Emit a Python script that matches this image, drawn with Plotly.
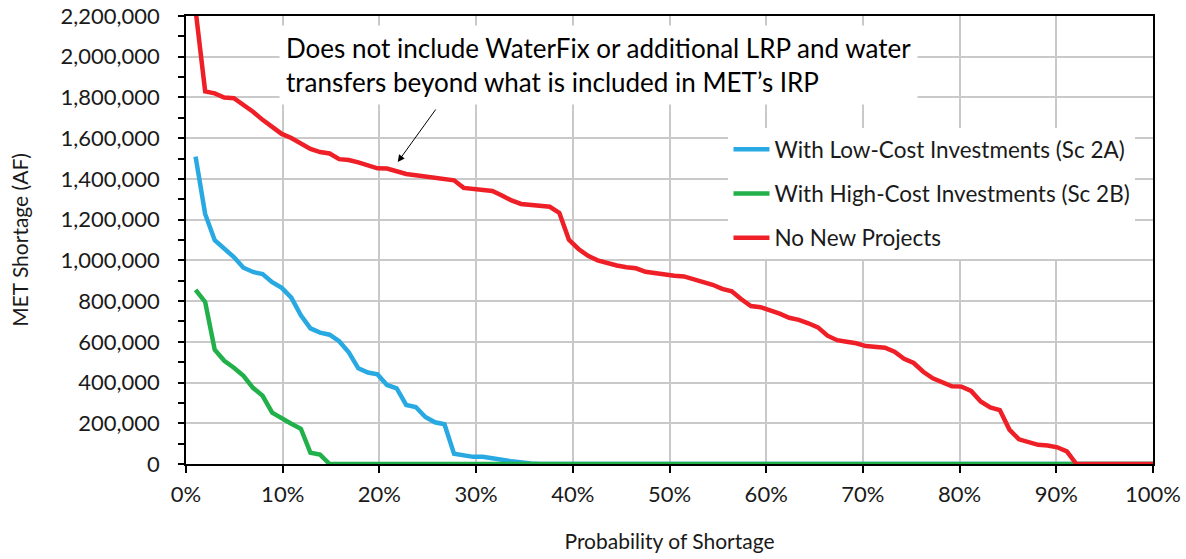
import plotly.graph_objects as go

# Exceedance probability (%) of each ranked year (rank / 101), plus the 100% end point
PROBABILITY_PCT = [
    0.99, 1.98, 2.97, 3.96, 4.95, 5.94, 6.93, 7.92, 8.91, 9.90,
    10.89, 11.88, 12.87, 13.86, 14.85, 15.84, 16.83, 17.82, 18.81, 19.80,
    20.79, 21.78, 22.77, 23.76, 24.75, 25.74, 26.73, 27.72, 28.71, 29.70,
    30.69, 31.68, 32.67, 33.66, 34.65, 35.64, 36.63, 37.62, 38.61, 39.60,
    40.59, 41.58, 42.57, 43.56, 44.55, 45.54, 46.53, 47.52, 48.51, 49.50,
    50.50, 51.49, 52.48, 53.47, 54.46, 55.45, 56.44, 57.43, 58.42, 59.41,
    60.40, 61.39, 62.38, 63.37, 64.36, 65.35, 66.34, 67.33, 68.32, 69.31,
    70.30, 71.29, 72.28, 73.27, 74.26, 75.25, 76.24, 77.23, 78.22, 79.21,
    80.20, 81.19, 82.18, 83.17, 84.16, 85.15, 86.14, 87.13, 88.12, 89.11,
    90.10, 91.09, 92.08, 93.07, 94.06, 95.05, 96.04, 97.03, 98.02, 99.01,
    100.0,
]

LOW_COST_2A = [
    1510000, 1228000, 1099000, 1055000, 1016000, 964000, 943000, 933000, 893000, 865000,
    817000, 730000, 666000, 645000, 635000, 603000, 548000, 470000, 449000, 440000,
    388000, 372000, 290000, 280000, 231000, 205000, 195000, 50000, 40000, 35000,
    35000, 30000, 21000, 13000, 6000, 2000, 0, 0, 0, 0,
    0, 0, 0, 0, 0, 0, 0, 0, 0, 0,
    0, 0, 0, 0, 0, 0, 0, 0, 0, 0,
    0, 0, 0, 0, 0, 0, 0, 0, 0, 0,
    0, 0, 0, 0, 0, 0, 0, 0, 0, 0,
    0, 0, 0, 0, 0, 0, 0, 0, 0, 0,
    0, 0, 0, 0, 0, 0, 0, 0, 0, 0,
    0,
]

HIGH_COST_2B = [
    855000, 796000, 561000, 507000, 473000, 433000, 374000, 335000, 252000, 222000,
    198000, 173000, 55000, 46000, 0, 0, 0, 0, 0, 0,
    0, 0, 0, 0, 0, 0, 0, 0, 0, 0,
    0, 0, 0, 0, 0, 0, 0, 0, 0, 0,
    0, 0, 0, 0, 0, 0, 0, 0, 0, 0,
    0, 0, 0, 0, 0, 0, 0, 0, 0, 0,
    0, 0, 0, 0, 0, 0, 0, 0, 0, 0,
    0, 0, 0, 0, 0, 0, 0, 0, 0, 0,
    0, 0, 0, 0, 0, 0, 0, 0, 0, 0,
    0, 0, 0, 0, 0, 0, 0, 0, 0, 0,
    0,
]

NO_NEW_PROJECTS = [
    2230000, 1830000, 1820000, 1800000, 1796000, 1765000, 1730000, 1690000, 1655000, 1621000,
    1601000, 1574000, 1547000, 1532000, 1525000, 1497000, 1493000, 1481000, 1466000, 1452000,
    1451000, 1437000, 1424000, 1418000, 1412000, 1402000, 1395000, 1393000, 1356000, 1352000,
    1349000, 1341000, 1319000, 1294000, 1277000, 1271000, 1267000, 1263000, 1233000, 1101000,
    1056000, 1022000, 1000000, 985000, 975000, 966000, 961000, 944000, 937000, 929000,
    925000, 921000, 909000, 893000, 880000, 860000, 848000, 809000, 776000, 770000,
    755000, 738000, 718000, 708000, 691000, 671000, 630000, 608000, 600000, 593000,
    579000, 573000, 571000, 551000, 517000, 496000, 453000, 421000, 399000, 382000,
    380000, 359000, 307000, 278000, 265000, 169000, 121000, 107000, 94000, 91000,
    82000, 62000, 0, 0, 0, 0, 0, 0, 0, 0,
    0,
]

SERIES_NAMES = [
    "With Low-Cost Investments (Sc 2A)",
    "With High-Cost Investments (Sc 2B)",
    "No New Projects",
]
SERIES_COLORS = ["#29a9e1", "#22b04b", "#ee1f26"]

Y_TICKS = [0, 200000, 400000, 600000, 800000, 1000000, 1200000, 1400000,
           1600000, 1800000, 2000000, 2200000]
X_TICKS = [0, 10, 20, 30, 40, 50, 60, 70, 80, 90, 100]
X_TICK_LABELS = ["0%", "10%", "20%", "30%", "40%", "50%", "60%", "70%", "80%", "90%", "100%"]

FONT = "Lato"
TEXT = "#1a1a1a"

fig = go.Figure()
for name, vals, col in zip(SERIES_NAMES, [LOW_COST_2A, HIGH_COST_2B, NO_NEW_PROJECTS], SERIES_COLORS):
    fig.add_trace(go.Scatter(
        x=PROBABILITY_PCT, y=vals, mode="lines", name=name,
        legendgroup=name,
        line=dict(color=col, width=4.5),
    ))

# plot area at 186..1153 x 16..464 (page body margin removed by post_script)
fig.update_layout(
    width=1186, height=559,
    margin=dict(l=186, r=33, t=16, b=95, autoexpand=False),
    paper_bgcolor="white", plot_bgcolor="white",
    font=dict(family=FONT, size=22, color=TEXT),
    showlegend=True,
    legend=dict(
        x=0.561, y=0.75, xanchor="left", yanchor="top",
        bgcolor="white", borderwidth=0,
        font=dict(family=FONT, size=22.5, color=TEXT),
        tracegroupgap=12, itemwidth=36,
    ),
    xaxis=dict(
        range=[0, 100], tickvals=X_TICKS, ticktext=X_TICK_LABELS,
        automargin=False, ticklabeloverflow="allow",
        showgrid=True, gridcolor="#c9c9c9", gridwidth=1.5,
        showline=True, linecolor="#000000", linewidth=1.5, mirror=True,
        ticks="outside", ticklen=7, tickcolor="#000000", tickwidth=1.5,
        ticklabelstandoff=3,
        zeroline=False,
        title=dict(text="Probability of Shortage", standoff=28,
                   font=dict(family=FONT, size=21, color=TEXT)),
    ),
    yaxis=dict(
        range=[0, 2200000], tickvals=Y_TICKS, tickformat=",d",
        automargin=False, ticklabeloverflow="allow",
        showgrid=True, gridcolor="#c9c9c9", gridwidth=1.5,
        showline=True, linecolor="#000000", linewidth=1.5, mirror=True,
        ticks="outside", ticklen=6, tickcolor="#000000", tickwidth=1.5,
        ticklabelstandoff=14,
        minor=dict(dtick=100000, ticks="outside", ticklen=6, tickcolor="#000000",
                   tickwidth=1.5, showgrid=False),
        zeroline=False,
        title=dict(text="MET Shortage (AF)", standoff=26,
                   font=dict(family=FONT, size=21, color=TEXT)),
    ),
)

# Explanatory note (white box) and arrow
fig.add_annotation(
    xref="paper", yref="paper", x=0.0957, y=0.98, xanchor="left", yanchor="top",
    text="Does not include WaterFix or additional LRP and water<br>transfers beyond what is included in MET\u2019s IRP",
    showarrow=False, align="left", bgcolor="white", borderpad=6,
    font=dict(family=FONT, size=26, color="#000000"),
)
fig.add_annotation(
    x=21.9, y=1483000, xref="x", yref="y", text="",
    showarrow=True, ax=39, ay=-54, axref="pixel", ayref="pixel",
    arrowhead=2, arrowsize=1.4, arrowwidth=1, arrowcolor="#000000",
)

fig.write_html("out.html", config={"displayModeBar": False},
               post_script="document.body.style.margin='0';")
